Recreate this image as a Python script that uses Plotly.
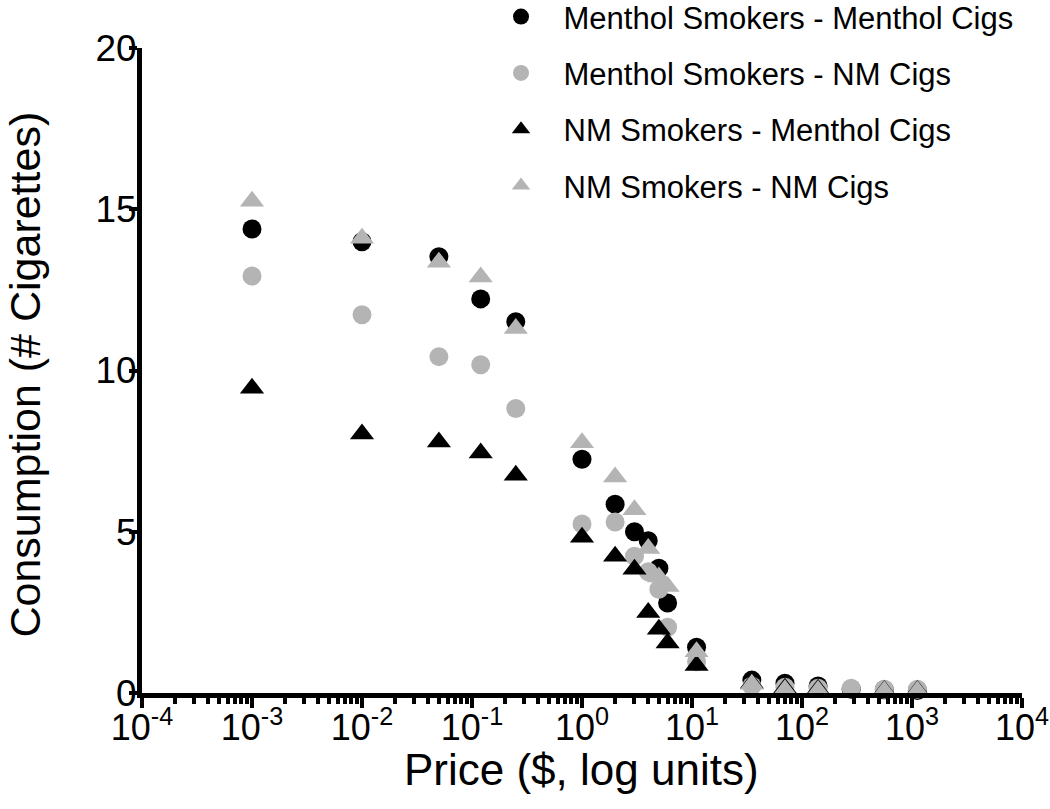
import plotly.graph_objects as go

prices = [0.001, 0.01, 0.05, 0.12, 0.25, 1, 2, 3, 4, 5, 6, 11, 35, 70, 140, 280, 560, 1120]

menthol_smokers_menthol = [14.39, 13.99, 13.53, 12.22, 11.51, 7.25, 5.85, 5.0, 4.72, 3.87, 2.79, 1.42,
                           0.40, 0.30, 0.22, 0.12, 0.10, 0.08]
menthol_smokers_nm = [12.93, 11.73, 10.43, 10.18, 8.82, 5.24, 5.30, 4.24, 3.76, 3.22, 2.04, 0.97,
                      0.22, 0.18, 0.15, 0.15, 0.12, 0.12]
nm_smokers_menthol = [9.45, 8.03, 7.78, 7.44, 6.75, 4.83, 4.24, 3.84, 2.50, 1.98, 1.55, 0.85,
                      0.30, 0.15, 0.12, None, 0.08, 0.08]
nm_smokers_nm = [15.25, 14.10, 13.36, 12.90, 11.30, 7.76, 6.70, 5.68, 4.48, 3.60, 3.30, 1.28,
                 0.27, 0.10, 0.08, None, 0.06, 0.06]

series_names = ["Menthol Smokers - Menthol Cigs", "Menthol Smokers - NM Cigs",
                "NM Smokers - Menthol Cigs", "NM Smokers - NM Cigs"]

x_tickvals = [1e-4, 1e-3, 1e-2, 1e-1, 1e0, 1e1, 1e2, 1e3, 1e4]
x_ticktext = ["10<sup>-4</sup>", "10<sup>-3</sup>", "10<sup>-2</sup>", "10<sup>-1</sup>",
              "10<sup>0</sup>", "10<sup>1</sup>", "10<sup>2</sup>", "10<sup>3</sup>", "10<sup>4</sup>"]
y_tickvals = [0, 5, 10, 15, 20]
x_title = "Price ($, log units)"
y_title = "Consumption (# Cigarettes)"

BLACK = "#000000"
GRAY = "#b4b4b4"
FONT = "Arial, Liberation Sans, Helvetica, sans-serif"

styles = [
    (menthol_smokers_menthol, "circle", BLACK, 19),
    (menthol_smokers_nm, "circle", GRAY, 19),
    (nm_smokers_menthol, "triangle-up", BLACK, 21),
    (nm_smokers_nm, "triangle-up", GRAY, 21),
]

fig = go.Figure()
for i, (vals, sym, col, sz) in enumerate(styles):
    fig.add_trace(go.Scatter(
        x=prices, y=vals, mode="markers", name=series_names[i],
        legendgroup=f"g{i}",
        marker=dict(symbol=sym, color=col, size=sz, line=dict(width=0)),
        cliponaxis=False,
    ))

minor_vals = [m * 10 ** e for e in range(-4, 4) for m in range(2, 10)]

fig.update_layout(
    width=1050, height=809,
    plot_bgcolor="white", paper_bgcolor="white",
    margin=dict(l=142, r=28, t=48, b=116, autoexpand=False),
    font=dict(family=FONT, color="black", size=30),
    legend=dict(
        xref="paper", yref="paper",
        x=0.3824, y=1.09, xanchor="left", yanchor="top",
        font=dict(size=31, family=FONT, color="black"),
        tracegroupgap=13, itemsizing="trace", itemwidth=75,
        bgcolor="rgba(0,0,0,0)",
    ),
    showlegend=True,
    annotations=[
        dict(text=x_title, xref="paper", yref="paper", x=0.499, y=-0.119,
             xanchor="center", yanchor="middle", showarrow=False,
             font=dict(size=44, family=FONT, color="black")),
        dict(text=y_title, xref="paper", yref="paper", x=-0.1335, y=0.493,
             xanchor="center", yanchor="middle", showarrow=False, textangle=-90,
             font=dict(size=43, family=FONT, color="black")),
    ],
)

fig.update_xaxes(
    type="log", range=[-4, 4], automargin=False,
    tickvals=x_tickvals, ticktext=x_ticktext,
    ticks="outside", ticklen=10, tickwidth=4, tickcolor="black",
    ticklabelstandoff=-11,
    showline=True, linewidth=5, linecolor="black",
    showgrid=False, zeroline=False,
    tickfont=dict(size=36, family=FONT, color="black"),
    minor=dict(tickvals=minor_vals, ticks="outside", ticklen=6, tickwidth=4,
               tickcolor="black", showgrid=False),
)
fig.update_yaxes(
    range=[0, 20], tickvals=y_tickvals, automargin=False,
    ticks="outside", ticklen=8, tickwidth=4, tickcolor="black",
    ticklabelstandoff=-15,
    showline=True, linewidth=5, linecolor="black",
    showgrid=False, zeroline=False,
    tickfont=dict(size=37, family=FONT, color="black"),
)

# remove the browser's default 8px body margin so the figure fills the window exactly
fig.write_html("out.html", config={"displayModeBar": False},
               post_script="document.body.style.margin='0';")
